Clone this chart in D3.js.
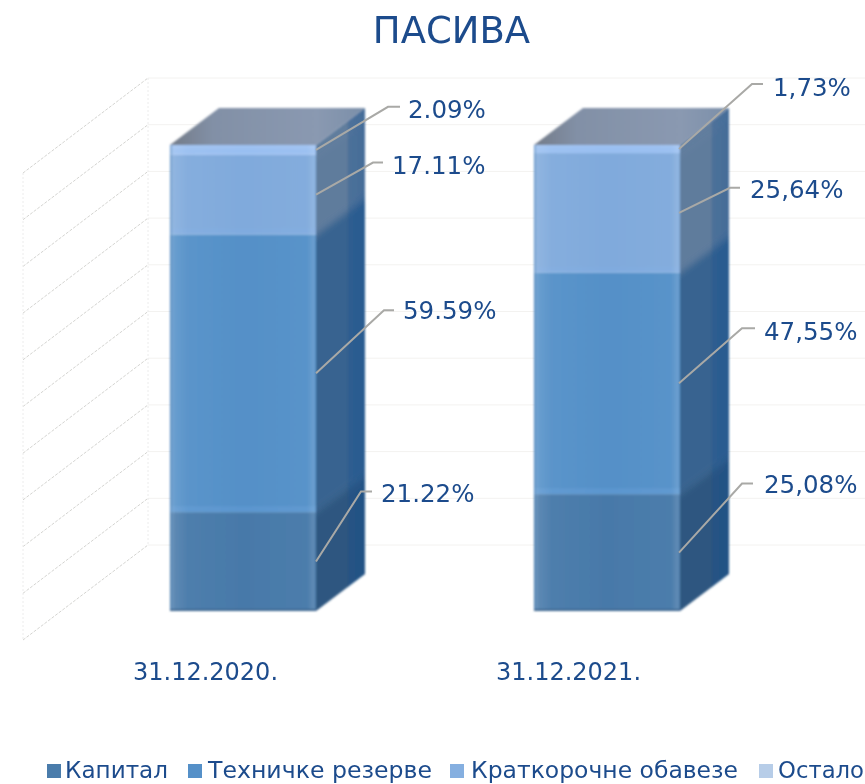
<!DOCTYPE html>
<html><head><meta charset="utf-8">
<script src="https://cdn.jsdelivr.net/npm/d3@7/dist/d3.min.js"></script>
<style>html,body{margin:0;padding:0;background:#fff;overflow:hidden}svg{display:block}text{font-family:"DejaVu Sans",Verdana,sans-serif;fill:#1c4b8c}</style>
</head><body><svg id="c" width="865" height="784"></svg>
<script>
const title = "ПАСИВА";
const categories = ["31.12.2020.", "31.12.2021."];
const seriesNames = ["Капитал", "Техничке резерве", "Краткорочне обавезе", "Остало"];
const capital = [21.22, 25.08];
const reserves = [59.59, 47.55];
const shortTerm = [17.11, 25.64];
const other = [2.09, 1.73];
const decimalMarks = [".", ","];
const gridTicks = [0,10,20,30,40,50,60,70,80,90,100];

// styling and layout
const seriesValues = [capital, reserves, shortTerm, other];
const frontCol = ["#4779a9", "#5490c8", "#80aadc", "#9fc2f2"];
const sideCol  = ["#2f5680", "#386490", "#5f7c9c", "#5f7c9c"];
const legendCol= ["#4a7cab", "#5590c8", "#85afe0", "#b7cde8"];
const barLeft = [170, 534], barW = 146, depthX = 49, depthY = 37;
// leader elbows [dx, dy, run] and label anchors, top segment first
const elbows = [
 [[72,-43,12],[57,-32,10],[68,-63,10],[45,-70,11]],
 [[73,-65,11],[51,-25,10],[63,-55,13],[63,-69,11]]];
const labelPos = [
 [[408,118],[392,174],[403,319],[381,502]],
 [[773,96],[750,198],[764,340],[764,493]]];
const legendSwatchX = [47,188,450,759], legendTextX = [65,208,471,778], legendTextW = [103,224,267,86];

const svg = d3.select("#c");
const defs = svg.append("defs");
const addBlur = (id,s)=>defs.append("filter").attr("id",id).attr("x","-20%").attr("y","-20%").attr("width","140%").attr("height","140%")
   .append("feGaussianBlur").attr("stdDeviation",s);
addBlur("soft",0.9); addBlur("softer",3.5);
const gl = defs.append("linearGradient").attr("id","frontShade");
[[0,"#3f78b0",.6],[.03,"#fff",.12],[.12,"#fff",.04],[.5,"#fff",0],[.94,"#fff",.03],[.985,"#fff",.14],[1,"#fff",.03]]
 .forEach(s=>gl.append("stop").attr("offset",s[0]).attr("stop-color",s[1]).attr("stop-opacity",s[2]));
const gt = defs.append("linearGradient").attr("id","topShade");
[[0,"#737b88"],[.22,"#8290a6"],[.75,"#8a99b1"],[1,"#7b8fa9"]].forEach(s=>gt.append("stop").attr("offset",s[0]).attr("stop-color",s[1]));
const gs = defs.append("linearGradient").attr("id","sideStrip");
[[0,"#000",.0],[.64,"#000",.0],[.66,"#0a4a90",.22],[1,"#0a4a90",.32]].forEach(s=>gs.append("stop").attr("offset",s[0]).attr("stop-color",s[1]).attr("stop-opacity",s[2]));

const yFront = d3.scaleLinear().domain([0,100]).range([611,145]);
const yWall = d3.scaleLinear().domain([0,100]).range([545,78]);

// walls
const grid = svg.append("g").attr("fill","none");
gridTicks.forEach(t=>{
  const y = yWall(t);
  grid.append("line").attr("x1",148).attr("x2",865).attr("y1",y).attr("y2",y).attr("stroke","#f3f2f0");
  grid.append("line").attr("x1",23).attr("x2",148).attr("y1",y+95).attr("y2",y).attr("stroke","#c9c9c5").attr("stroke-width",.8).attr("stroke-dasharray","3 1.5");
});
[[23,95],[148,0]].forEach(w=>grid.append("line").attr("x1",w[0]).attr("x2",w[0]).attr("y1",yWall(100)+w[1]).attr("y2",yWall(0)+w[1]).attr("stroke","#ececec").attr("stroke-dasharray","2 2"));

// bars
const stack = d3.stack().keys(d3.range(4)).value((d,k)=>seriesValues[k][d])(d3.range(2));
const total = i => stack[3][i][1];
const barsG = svg.append("g").attr("filter","url(#soft)");
categories.forEach((cat,i)=>{
  const x0 = barLeft[i], x1 = x0+barW, dx = depthX, dy = depthY;
  const yOf = v => yFront(v/total(i)*100);
  const g = barsG.append("g");
  const yTop = yFront(100), yBot = yFront(0);
  const sidePath = `M${x1},${yBot}L${x1+dx},${yBot-dy}L${x1+dx},${yTop-dy}L${x1},${yTop}Z`;
  const clipId = "side"+i;
  defs.append("clipPath").attr("id",clipId).append("path").attr("d",sidePath);
  const sideG = g.append("g").attr("clip-path",`url(#${clipId})`).append("g").attr("filter","url(#softer)");
  seriesValues.forEach((_,k)=>{
    const yb = yOf(stack[k][i][0]), yt = yOf(stack[k][i][1]);
    const ext = k===0?20:0, extTop = k===3?60:0;
    sideG.append("path").attr("d",`M${x1-10},${yb+7+ext}L${x1+dx+10},${yb-dy-7+ext}L${x1+dx+10},${yt-dy-7-extTop}L${x1-10},${yt+7-extTop}Z`).attr("fill",sideCol[k]);
  });
  g.append("path").attr("d",sidePath).attr("fill","url(#sideStrip)");
  seriesValues.forEach((_,k)=>{
    const yb = yOf(stack[k][i][0]), yt = yOf(stack[k][i][1]);
    g.append("rect").attr("x",x0).attr("y",yt).attr("width",barW).attr("height",yb-yt).attr("fill",frontCol[k]);
    if(k>0) g.append("rect").attr("x",x0).attr("y",yb-6).attr("width",barW).attr("height",6).attr("fill","#7fb4ee").attr("opacity",.18);
  });
  g.append("path").attr("d",`M${x0},${yTop}L${x0+dx},${yTop-dy}L${x1+dx},${yTop-dy}L${x1},${yTop}Z`).attr("fill","url(#topShade)");
  g.append("rect").attr("x",x0).attr("y",yTop).attr("width",barW).attr("height",yBot-yTop).attr("fill","url(#frontShade)");
  g.append("rect").attr("x",x0).attr("y",yBot-2).attr("width",barW).attr("height",2).attr("fill","#3e6690");
});

// leaders, data labels and category labels
categories.forEach((cat,i)=>{
  [3,2,1,0].forEach((k,idx)=>{
    const mid = (stack[k][i][0]+stack[k][i][1])/2/total(i)*100;
    const sx = barLeft[i]+barW+(i?-1:0), sy = yFront(mid);
    const e = elbows[i][idx];
    svg.append("path").attr("fill","none").attr("stroke","#a9a9a6").attr("stroke-width",2)
      .attr("d",`M${sx},${sy}L${sx+e[0]},${sy+e[1]}h${e[2]}`);
    const p = labelPos[i][idx];
    svg.append("text").attr("x",p[0]).attr("y",p[1]).attr("font-size",24.5)
      .text(seriesValues[k][i].toFixed(2).replace(".",decimalMarks[i])+"%");
  });
  svg.append("text").attr("x",[205.5,568.5][i]).attr("y",680).attr("font-size",24).attr("text-anchor","middle").text(cat);
});

// title
svg.append("text").attr("x",451.5).attr("y",43).attr("text-anchor","middle").attr("font-size",37).text(title);

// legend
seriesNames.forEach((n,k)=>{
  svg.append("rect").attr("x",legendSwatchX[k]).attr("y",764).attr("width",14).attr("height",14).attr("fill",legendCol[k]);
  svg.append("text").attr("x",legendTextX[k]).attr("y",778).attr("font-size",23)
     .attr("textLength",legendTextW[k]).attr("lengthAdjust","spacingAndGlyphs").text(n);
});
</script></body></html>
